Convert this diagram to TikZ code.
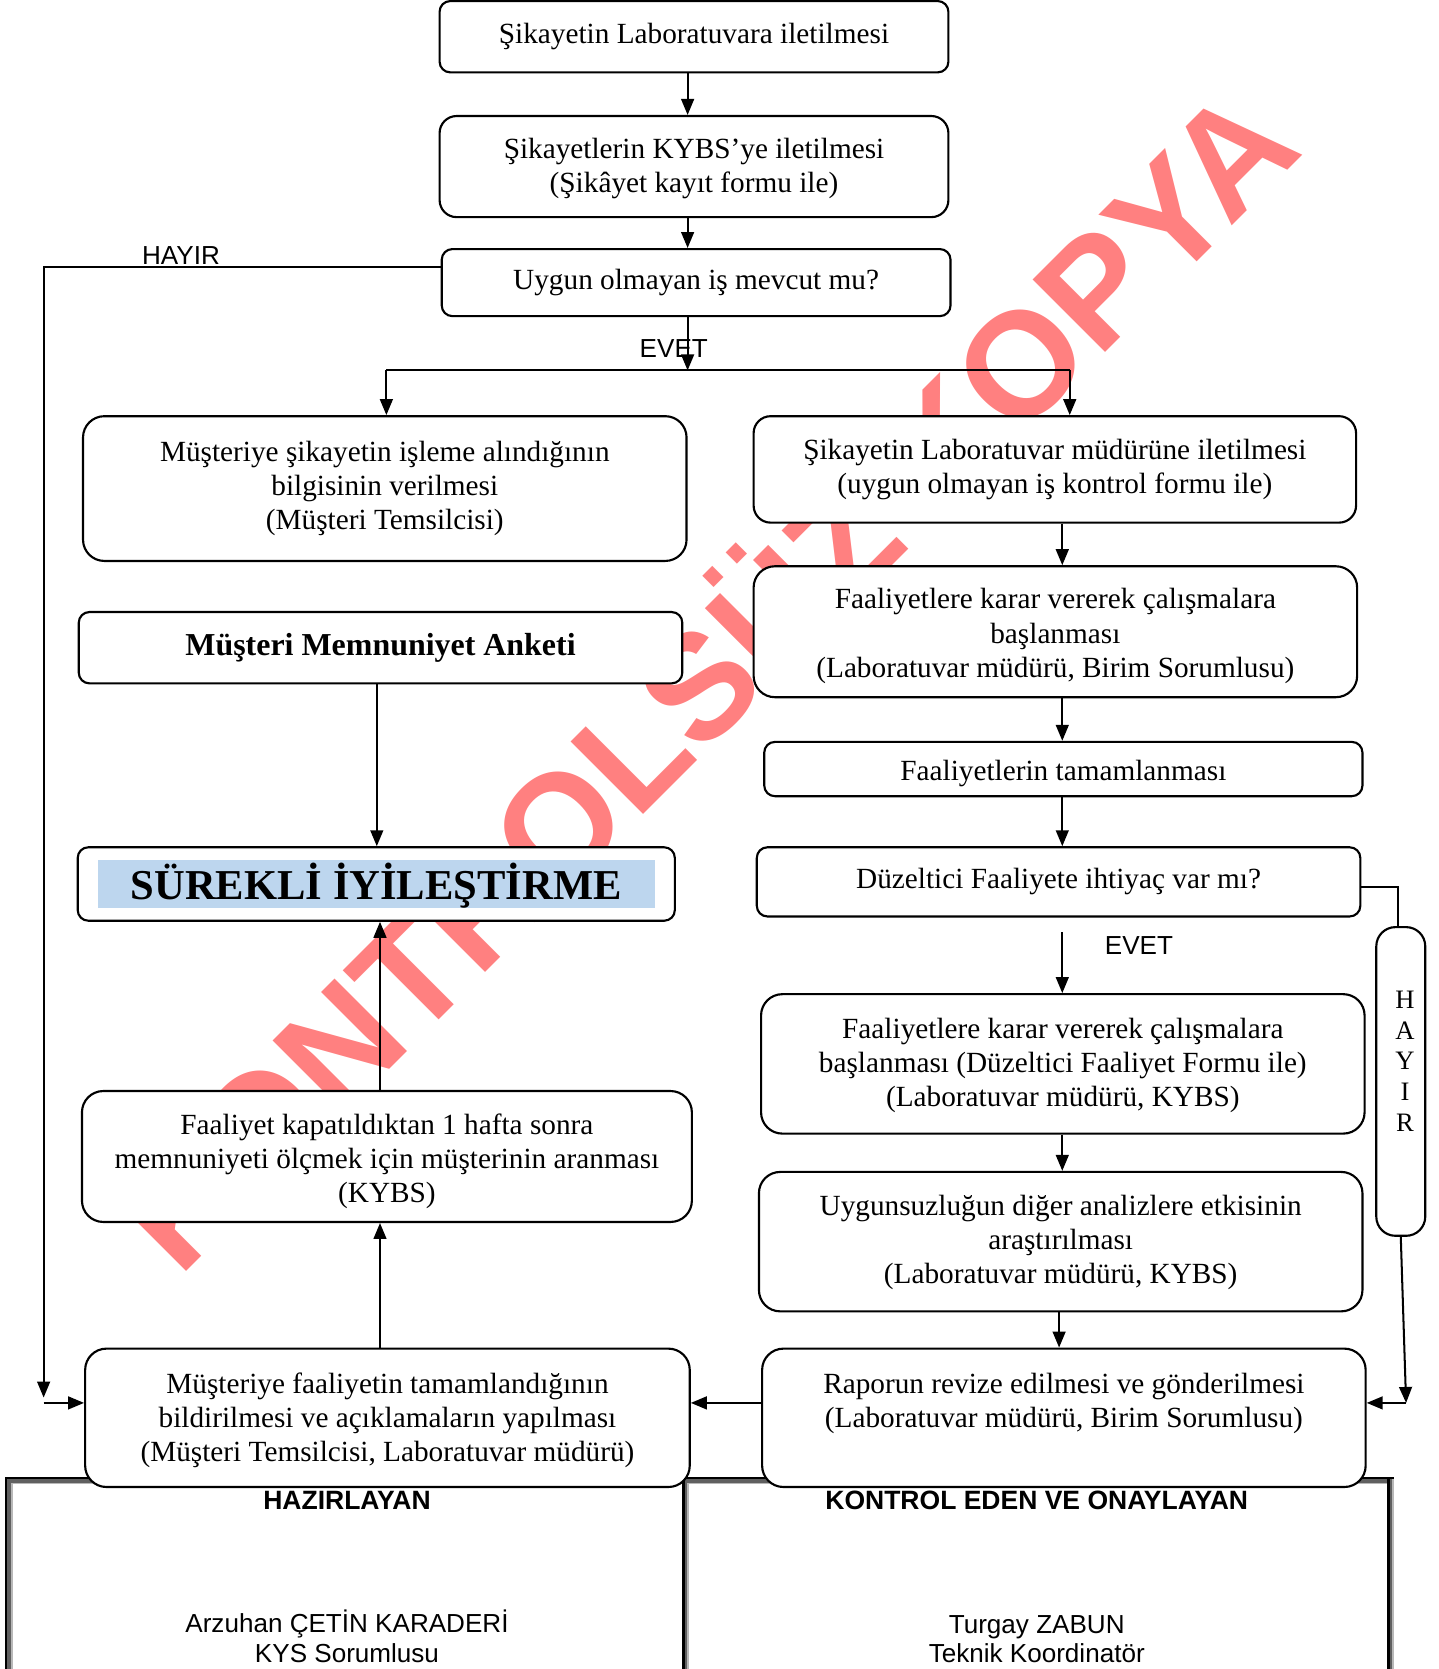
\documentclass[tikz,border=0pt]{standalone}
\usepackage{fontspec}
\setmainfont{Liberation Serif}
\newfontfamily\arial{Liberation Sans}
\usetikzlibrary{arrows.meta,calc}
\definecolor{wmcol}{RGB}{255,128,128}
\definecolor{lblue}{RGB}{189,214,238}
\definecolor{dgray}{RGB}{96,96,96}
\definecolor{lgray}{RGB}{184,184,184}
\begin{document}
\begin{tikzpicture}[x=1pt,y=-1pt,
  box/.style={draw, line width=2pt, rounded corners=16pt, fill=white, inner sep=0pt, align=center, font=\fontsize{27.5}{32}\selectfont},
  sbox/.style={box, rounded corners=10pt},
  bbox/.style={box, rounded corners=20pt},
  txt/.style={inner sep=0pt, align=center, font=\fontsize{27.5}{32}\selectfont},
  arr/.style={line width=1.9pt, -{Triangle[length=15pt,width=12pt]}},
  ln/.style={line width=1.9pt},
  sans/.style={inner sep=0pt, align=center, font=\arial\fontsize{24.5}{28}\selectfont},
  sansb/.style={inner sep=0pt, align=center, font=\arial\bfseries\fontsize{24.9}{28}\selectfont},
]
\useasboundingbox (0,0) rectangle (1351,1568);
\clip (0,0) rectangle (1351,1568);

% ---- table frame ----
\fill[black] (4.7,1387.3) rectangle (1309.6,1389.6);
\fill[dgray] (6.9,1389.6) rectangle (1309.6,1392.8);
\fill[lgray] (10.3,1392.8) rectangle (1309.6,1394.5);
\fill[black] (4.7,1387.3) rectangle (6.9,1580);
\fill[dgray] (6.9,1389.6) rectangle (10.3,1580);
\fill[lgray] (10.3,1392.8) rectangle (11.9,1580);
\fill[black] (640.4,1389.6) rectangle (643.5,1580);
\fill[dgray] (643.5,1389.6) rectangle (645.7,1580);
\fill[lgray] (645.7,1392.8) rectangle (647.3,1580);
\fill[black] (1302.8,1389.6) rectangle (1305.9,1580);
\fill[dgray] (1305.9,1389.6) rectangle (1308,1580);
\fill[lgray] (1308,1389.6) rectangle (1309.6,1580);

% ---- watermark ----
\node[inner sep=0pt, anchor=base, rotate=45, text=wmcol, font=\arial\bfseries\fontsize{140}{140}\selectfont] (wm) at (698,672) {KONTROLSÜZ KOPYA};

% ---- boxes ----
\node[sbox, minimum width=478pt, minimum height=67pt] (B1) at (652,34.5) {Şikayetin Laboratuvara iletilmesi};
\node[box, minimum width=478pt, minimum height=95pt] (B2) at (652,156.5) {};
\node[txt] (B2t) at (652,158.5) {Şikayetlerin KYBS’ye iletilmesi\\(Şikâyet kayıt formu ile)};
\node[sbox, minimum width=478pt, minimum height=63pt] (B3) at (654,265.5) {Uygun olmayan iş mevcut mu?};

\node[bbox, minimum width=567pt, minimum height=136pt] (L1) at (361.5,459) {Müşteriye şikayetin işleme alındığının\\bilgisinin verilmesi\\(Müşteri Temsilcisi)};
\node[sbox, minimum width=567pt, minimum height=67pt, font=\bfseries\fontsize{30}{34}\selectfont] (L4) at (357.5,608.5) {Müşteri Memnuniyet Anketi};
\node[sbox, minimum width=561pt, minimum height=69pt] (L5) at (353.5,830.5) {};
\node[fill=lblue, minimum width=523pt, minimum height=45pt, inner sep=0pt] (L5f) at (353.5,830.5) {};
\node[inner sep=0pt, font=\bfseries\fontsize{40}{44}\selectfont] (L5t) at (353.5,832.5) {SÜREKLİ İYİLEŞTİRME};
\node[bbox, minimum width=573pt, minimum height=123pt] (L6) at (363.5,1086.5) {};
\node[txt] (L6t) at (363.5,1091) {Faaliyet kapatıldıktan 1 hafta sonra\\memnuniyeti ölçmek için müşterinin aranması\\(KYBS)};
\node[bbox, minimum width=568pt, minimum height=130pt] (L7) at (364,1332) {};
\node[txt] (L7t) at (364,1334.5) {Müşteriye faaliyetin tamamlandığının\\bildirilmesi ve açıklamaların yapılması\\(Müşteri Temsilcisi, Laboratuvar müdürü)};

\node[box, minimum width=566pt, minimum height=100pt] (R1) at (991,441) {Şikayetin Laboratuvar müdürüne iletilmesi\\(uygun olmayan iş kontrol formu ile)};
\node[bbox, minimum width=567pt, minimum height=123pt] (R2) at (991.5,593.5) {};
\node[txt] (R2t) at (991.5,597.5) {Faaliyetlere karar vererek çalışmalara\\başlanması\\(Laboratuvar müdürü, Birim Sorumlusu)};
\node[sbox, minimum width=562pt, minimum height=51pt] (R3) at (999,722.5) {};
\node[txt] (R3t) at (999,726.5) {Faaliyetlerin tamamlanması};
\node[sbox, minimum width=567pt, minimum height=65pt] (R4) at (994.5,828.5) {Düzeltici Faaliyete ihtiyaç var mı?};
\node[bbox, minimum width=567pt, minimum height=131pt] (R5) at (998.5,999.5) {};
\node[txt] (R5t) at (998.5,1001) {Faaliyetlere karar vererek çalışmalara\\başlanması (Düzeltici Faaliyet Formu ile)\\(Laboratuvar müdürü, KYBS)};
\node[bbox, minimum width=567pt, minimum height=131pt] (R6) at (996.5,1166.5) {};
\node[txt] (R6t) at (996.5,1167.5) {Uygunsuzluğun diğer analizlere etkisinin\\araştırılması\\(Laboratuvar müdürü, KYBS)};
\node[bbox, minimum width=567pt, minimum height=130pt] (R7) at (999.5,1332) {};
\node[txt] (R7t) at (999.5,1318.5) {Raporun revize edilmesi ve gönderilmesi\\(Laboratuvar müdürü, Birim Sorumlusu)};

\node[draw, line width=2pt, rounded corners=18pt, fill=white, minimum width=46pt, minimum height=290pt, inner sep=0pt] (HC) at (1316,1016) {};
\node[inner sep=0pt, align=center, font=\fontsize{25}{28.7}\selectfont] (HCt) at (1320,997) {H\\A\\Y\\I\\R};

% ---- connectors ----
\coordinate (cR) at (998,0);
\coordinate (cR2) at (995,0);
\coordinate (cL) at (357,0);
\coordinate (cL2) at (354,0);
\draw[arr] ([xshift=-6pt]B1.south) -- ([xshift=-6pt]B2.north);
\draw[arr] ([xshift=-6pt]B2.south) -- ([xshift=-8pt]B3.north);

\coordinate (hayL) at (41,1313);
\coordinate (hayL2) at (41,1318);
\draw[arr] ([yshift=14.5pt]B3.west) -| (hayL);
\draw[arr] (hayL2) -- ([yshift=14pt]L7.west);

\coordinate (eM) at (646,348);
\coordinate (eL) at (363,348);
\coordinate (eR) at (1005,348);
\draw[arr] ([xshift=-8pt]B3.south) -- (eM);
\draw[ln] (eL) -- (eR);
\draw[arr] (eL) -- (eL |- L1.north);
\draw[arr] (eR) -- (eR |- R1.north);

\draw[arr] (cR |- R1.south) -- (cR |- R2.north);
\draw[arr] (cR |- R2.south) -- (cR |- R3.north);
\draw[arr] (cR |- R3.south) -- (cR |- R4.north);
\coordinate (ev2) at (998,876);
\draw[arr] (ev2) -- (cR |- R5.north);
\draw[arr] (cR |- R5.south) -- (cR |- R6.north);
\draw[arr] (cR2 |- R6.south) -- (cR2 |- R7.north);
\draw[arr] ([yshift=14pt]R7.west) -- ([yshift=14pt]L7.east);

\draw[arr] (cL |- L7.north) -- (cL |- L6.south);
\draw[arr] (cL |- L6.north) -- (cL |- L5.south);
\draw[arr] (cL2 |- L4.south) -- (cL2 |- L5.north);

\coordinate (hr) at (1313,833);
\draw[ln] ([yshift=-4.5pt]R4.east) -- (hr) -- (hr |- HC.north);
\coordinate (hr2) at (1321,1318);
\draw[arr] (HC.south) -- (hr2);
\draw[arr] (hr2) -- ([yshift=14pt]R7.east);

% ---- labels ----
\node[sans] (hayir1) at (170,240) {HAYIR};
\node[sans] (evet1) at (633,327) {EVET};
\node[sans] (evet2) at (1070,888) {EVET};

\node[sansb] (hz) at (326,1410) {HAZIRLAYAN};
\node[sansb] (ko) at (974,1410) {KONTROL EDEN VE ONAYLAYAN};
\node[sans] (p1) at (326,1537) {Arzuhan ÇETİN KARADERİ\\KYS Sorumlusu};
\node[sans] (p2) at (974,1540) {Turgay ZABUN\\Teknik Koordinatör};
\end{tikzpicture}
\end{document}
